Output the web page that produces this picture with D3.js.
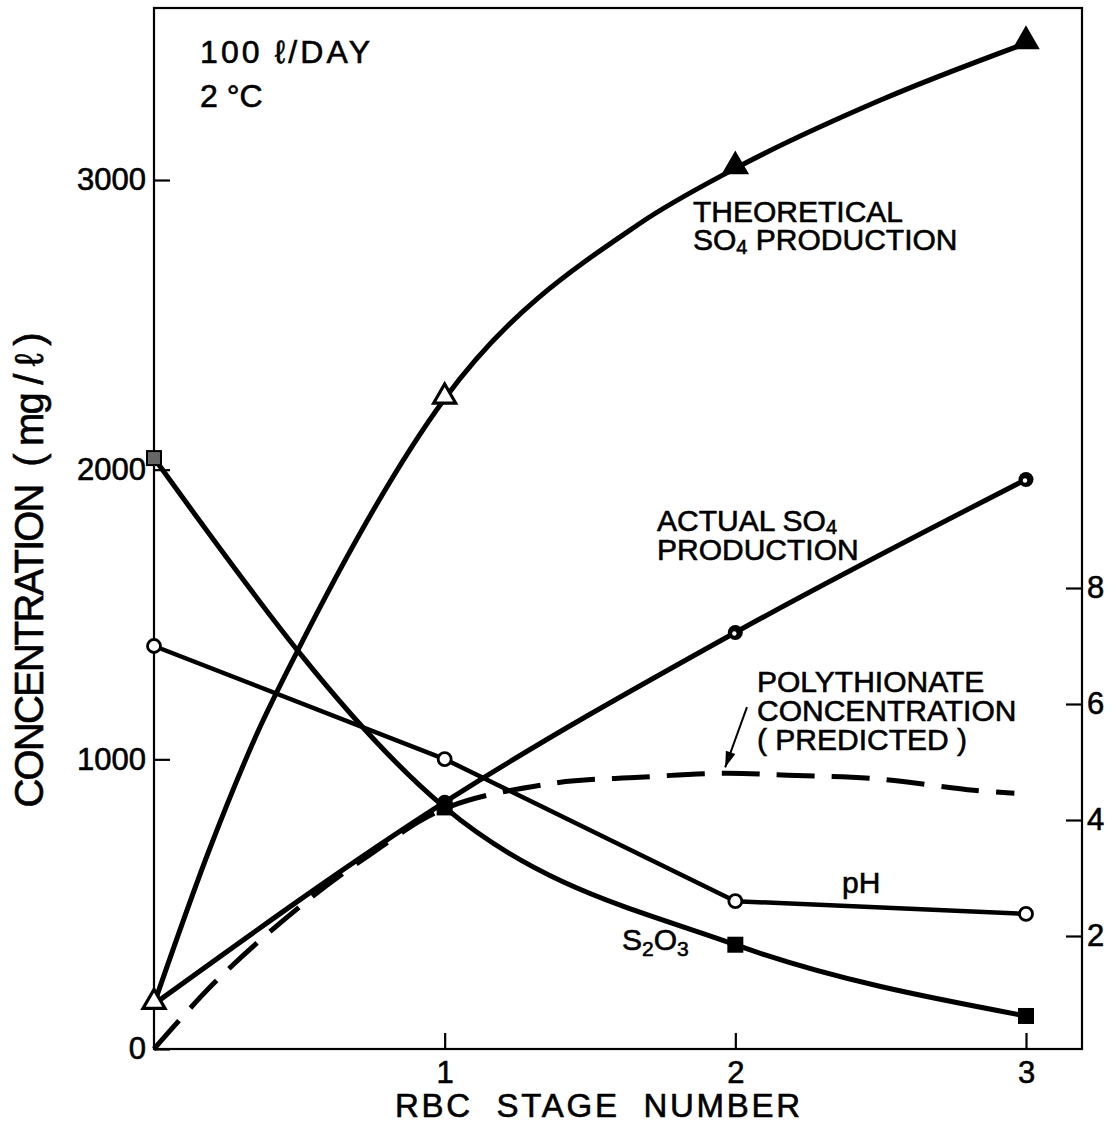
<!DOCTYPE html>
<html>
<head>
<meta charset="utf-8">
<script src="https://cdn.jsdelivr.net/npm/d3@7"></script>
<style>
  html, body { margin: 0; padding: 0; background: #fff; }
  svg text { font-family: "Liberation Sans", Arial, Helvetica, sans-serif; fill: #000; white-space: pre;
             stroke: #000; stroke-width: 0.6px; }
</style>
</head>
<body>
<svg id="chart" width="1114" height="1125"></svg>
<script>
// RBC stages and measured / predicted concentrations (mg/l), pH on the right axis
const stages = [0, 1, 2, 3];
const theoreticalSO4 = [155, 2245, 3040, 3472];
const actualSO4 = [155, 852, 1438, 1966];
const thiosulfate = [2040, 834, 360, 114];
const pHValues = [7.0, 5.05, 2.6, 2.38];

// hand-drawn curve through the theoretical SO4 points, read along its length
const theoCurveStage = [0, 0.19, 0.36, 0.49, 1, 1.67, 2, 2.5, 3];
const theoCurveConc = [155, 687, 1101, 1367, 2245, 2849, 3040, 3276, 3472];

// predicted polythionate curve, read along its length
const polyStage = [0, 0.21, 0.5, 0.73, 1, 1.37, 1.67, 1.96, 2.18, 2.47, 2.82, 2.96];
const polyConc = [0, 231, 490, 662, 830, 917, 938, 952, 945, 934, 893, 883];

// tick labels
const concTicks = [0, 1000, 2000, 3000];
const stageTicks = [1, 2, 3];
const pHTicks = [2, 4, 6, 8];

// arrow pointing at the polythionate curve: [stage, concentration]
const arrowTail = [2.04, 1180];
const arrowHead = [1.965, 972];

const svg = d3.select("#chart");
const frameLeft = 154, frameRight = 1082, frameTop = 8, frameBottom = 1049;

const x = d3.scaleLinear().domain([0, 3]).range([frameLeft, 1026]);
const y = d3.scaleLinear().domain([0, 3000]).range([frameBottom, 180]);
const yPH = d3.scaleLinear().domain([2, 8]).range([936, 588]);

// frame
svg.append("rect")
  .attr("x", frameLeft).attr("y", frameTop)
  .attr("width", frameRight - frameLeft).attr("height", frameBottom - frameTop)
  .attr("fill", "none").attr("stroke", "#000").attr("stroke-width", 2.2);

// axes with inward ticks
function styleAxis(g) {
  g.select(".domain").remove();
  g.selectAll(".tick line").attr("stroke", "#000").attr("stroke-width", 2.2);
  g.selectAll(".tick text")
    .style("font-size", "31px")
    .style("font-family", "'Liberation Sans', Arial, sans-serif")
    .attr("fill", "#000");
}

svg.append("g")
  .attr("transform", `translate(${frameLeft},0)`)
  .call(d3.axisLeft(y).tickValues(concTicks).tickSize(-16).tickPadding(8).tickFormat(d3.format("d")))
  .call(styleAxis);

svg.append("g")
  .attr("transform", `translate(0,${frameBottom})`)
  .call(d3.axisBottom(x).tickValues(stageTicks).tickSize(-16).tickPadding(12).tickFormat(d3.format("d")))
  .call(styleAxis);

svg.append("g")
  .attr("transform", `translate(${frameRight},0)`)
  .call(d3.axisRight(yPH).tickValues(pHTicks).tickSize(-16).tickPadding(5).tickFormat(d3.format("d")))
  .call(styleAxis);

// axis titles
svg.append("text")
  .attr("x", 395).attr("y", 1117)
  .attr("textLength", 405).attr("lengthAdjust", "spacing")
  .style("font-size", "33px")
  .text("RBC  STAGE  NUMBER");

svg.append("text")
  .attr("transform", "translate(43,570) rotate(-90)")
  .attr("text-anchor", "middle")
  .attr("textLength", 475).attr("lengthAdjust", "spacing")
  .style("font-size", "40px")
  .text("CONCENTRATION  ( mg / ℓ )");

// condition labels
svg.append("text").attr("x", 200).attr("y", 63).style("font-size", "32px")
  .attr("textLength", 170).attr("lengthAdjust", "spacing").text("100 ℓ/DAY");
svg.append("text").attr("x", 200).attr("y", 107).style("font-size", "32px").text("2 °C");

// series
const lineConc = d3.line().x(d => x(d[0])).y(d => y(d[1]));
const linePH = d3.line().x(d => x(d[0])).y(d => yPH(d[1]));

const theo = stages.map((s, i) => [s, theoreticalSO4[i]]);
const act = stages.map((s, i) => [s, actualSO4[i]]);
const thio = stages.map((s, i) => [s, thiosulfate[i]]);
const ph = stages.map((s, i) => [s, pHValues[i]]);
const theoCurve = theoCurveStage.map((s, i) => [s, theoCurveConc[i]]);
const poly = polyStage.map((s, i) => [s, polyConc[i]]);

svg.append("path").attr("d", lineConc.curve(d3.curveCatmullRom)(poly))
  .attr("fill", "none").attr("stroke", "#000").attr("stroke-width", 5)
  .attr("stroke-dasharray", "38,17");

svg.append("path").attr("d", lineConc.curve(d3.curveMonotoneX)(theoCurve))
  .attr("fill", "none").attr("stroke", "#000").attr("stroke-width", 5);

[act, thio].forEach(data => {
  svg.append("path").attr("d", lineConc.curve(d3.curveMonotoneX)(data))
    .attr("fill", "none").attr("stroke", "#000").attr("stroke-width", 5)
    .attr("stroke-linejoin", "round");
});
svg.append("path").attr("d", linePH.curve(d3.curveLinear)(ph))
  .attr("fill", "none").attr("stroke", "#000").attr("stroke-width", 4.5)
  .attr("stroke-linejoin", "round");

// markers: triangles (theoretical SO4)
const tri = d3.symbol().type(d3.symbolTriangle).size(210);
svg.selectAll(".theo").data(theo).join("path")
  .attr("transform", d => `translate(${x(d[0])},${y(d[1]) - 2})`)
  .attr("d", tri)
  .attr("fill", (d, i) => i < 2 ? "#fff" : "#000")
  .attr("stroke", "#000").attr("stroke-width", 3.2);

// markers: dotted circles (actual SO4)
svg.selectAll(".act").data(act.slice(1)).join("circle")
  .attr("cx", d => x(d[0])).attr("cy", d => y(d[1]))
  .attr("r", 7.5).attr("fill", "#000");
svg.selectAll(".actDot").data(act.slice(1)).join("circle")
  .attr("cx", d => x(d[0]) - 1).attr("cy", d => y(d[1]) + 1)
  .attr("r", 2.2).attr("fill", "#fff");

// markers: squares (thiosulfate)
svg.selectAll(".thio").data(thio).join("rect")
  .attr("x", d => x(d[0]) - 7).attr("y", d => y(d[1]) - 7)
  .attr("width", 14).attr("height", 14)
  .attr("fill", (d, i) => i === 0 ? "#666" : "#000")
  .attr("stroke", "#000").attr("stroke-width", 2);

// markers: open circles (pH)
svg.selectAll(".ph").data(ph).join("circle")
  .attr("cx", d => x(d[0])).attr("cy", d => yPH(d[1]))
  .attr("r", 6.5).attr("fill", "#fff")
  .attr("stroke", "#000").attr("stroke-width", 2.8);

// series labels
function label(xp, yp, parts, size) {
  const t = svg.append("text").attr("x", xp).attr("y", yp).style("font-size", size + "px");
  parts.forEach(p => {
    if (typeof p === "string") t.append("tspan").text(p);
    else t.append("tspan").attr("dy", p.dy).style("font-size", p.size + "px").text(p.t);
  });
  return t;
}
label(693, 222, ["THEORETICAL"], 30);
label(693, 250, ["SO", { t: "4", dy: 4, size: 20 }, { t: " PRODUCTION", dy: -4, size: 30 }], 30);
label(657, 531, ["ACTUAL SO", { t: "4", dy: 3, size: 20 }], 30);
label(657, 560, ["PRODUCTION"], 30);
label(757, 692, ["POLYTHIONATE"], 30);
label(757, 721, ["CONCENTRATION"], 30);
label(757, 750, ["( PREDICTED )"], 30);
label(842, 893, ["pH"], 30);
label(622, 950, ["S", { t: "2", dy: 6, size: 21 }, { t: "O", dy: -6, size: 30 }, { t: "3", dy: 6, size: 21 }], 30);

// arrow to the polythionate curve
const ax1 = x(arrowTail[0]), ay1 = y(arrowTail[1]);
const ax2 = x(arrowHead[0]), ay2 = y(arrowHead[1]);
svg.append("line").attr("x1", ax1).attr("y1", ay1).attr("x2", ax2).attr("y2", ay2)
  .attr("stroke", "#000").attr("stroke-width", 2);
const ang = Math.atan2(ay2 - ay1, ax2 - ax1);
const hl = 16, hw = 5;
const bx = ax2 - hl * Math.cos(ang), by = ay2 - hl * Math.sin(ang);
svg.append("path")
  .attr("d", `M${ax2},${ay2}L${bx + hw * Math.sin(ang)},${by - hw * Math.cos(ang)}L${bx - hw * Math.sin(ang)},${by + hw * Math.cos(ang)}Z`)
  .attr("fill", "#000");
</script>
</body>
</html>
